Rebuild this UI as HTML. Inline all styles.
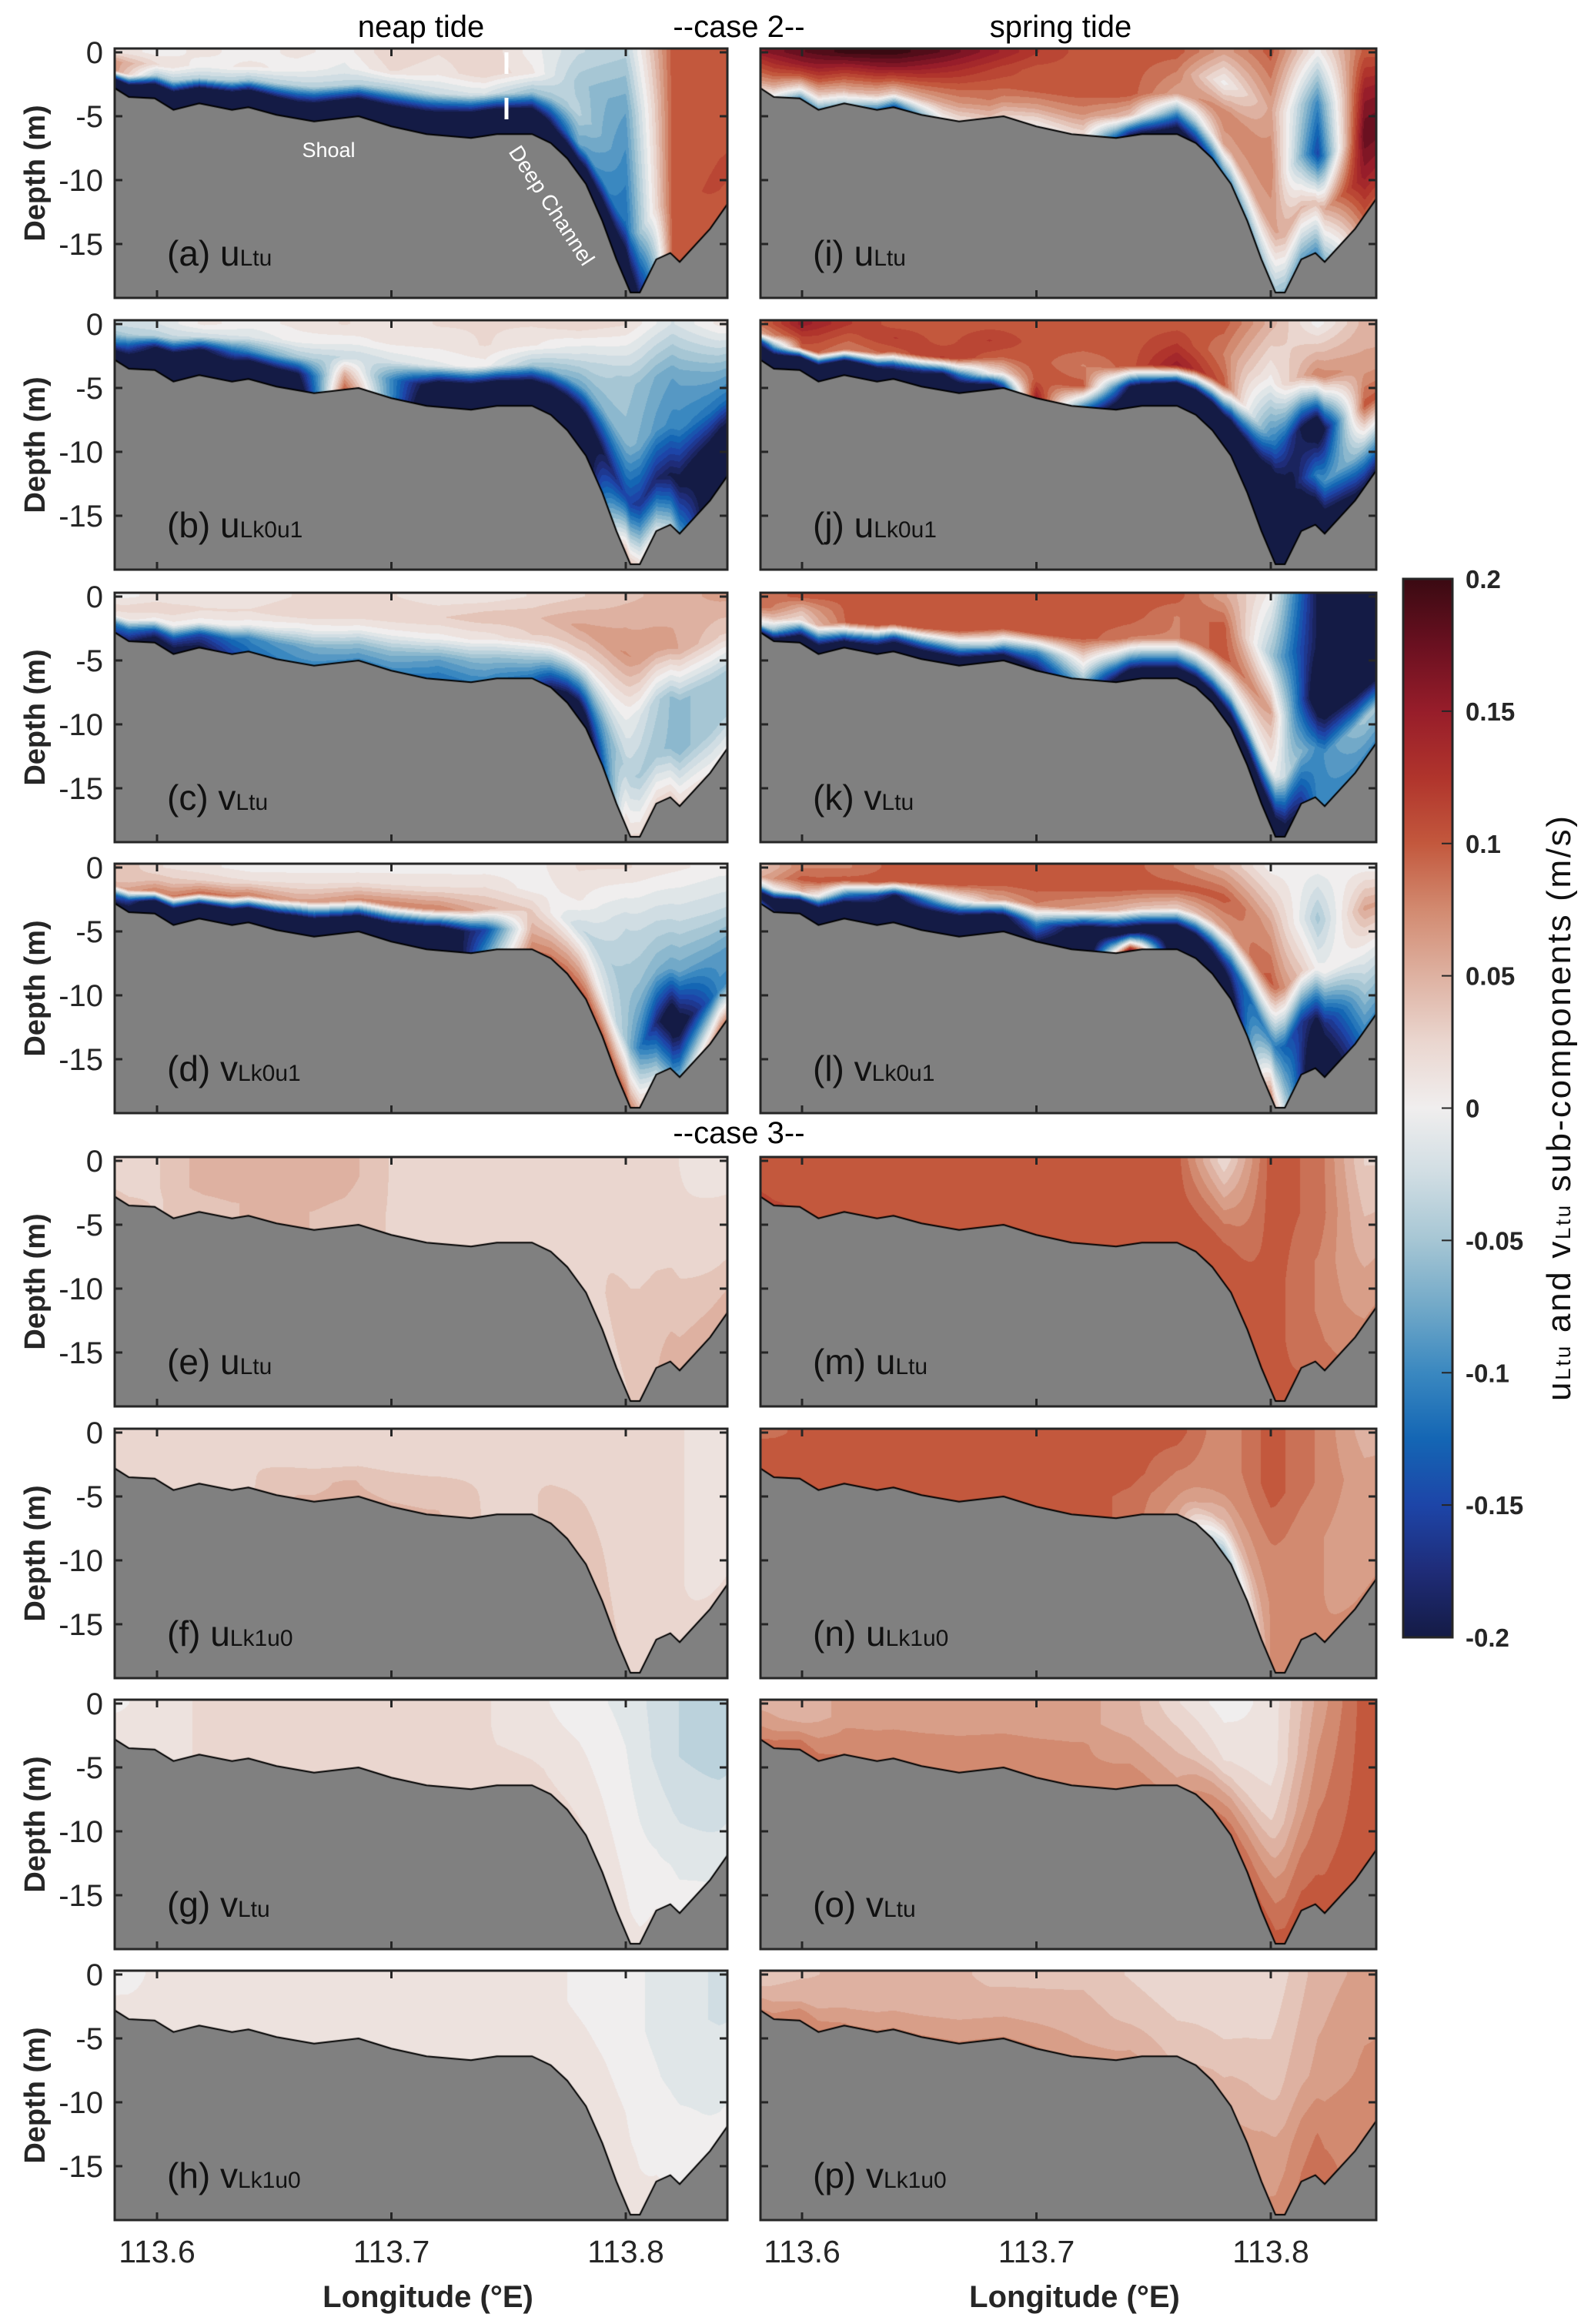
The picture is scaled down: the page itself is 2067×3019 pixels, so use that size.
<!DOCTYPE html>
<html><head><meta charset="utf-8">
<style>
html,body{margin:0;padding:0;background:#fff;}
#wrap{position:relative;width:2067px;height:3019px;overflow:hidden;background:#fff;}
canvas{position:absolute;}
svg{position:absolute;left:0;top:0;}
text{font-family:"Liberation Sans",Arial,sans-serif;}
</style></head>
<body>
<div id="wrap">
<svg id="ov" width="2067" height="3019"></svg>
</div>
<script>
// ---------- data ----------
const lonCols = [113.58,113.60,113.62,113.64,113.66,113.68,113.70,113.72,113.74,113.76,113.78,113.80,113.82,113.84];
const bathyLon = [113.582,113.588,113.599,113.607,113.618,113.632,113.639,113.651,113.667,113.686,113.700,113.715,113.734,113.745,113.760,113.768,113.775,113.783,113.790,113.796,113.802,113.806,113.813,113.819,113.823,113.836,113.846];
const bathyDepth = [2.8,3.5,3.6,4.5,4.0,4.5,4.3,4.9,5.4,5.0,5.8,6.4,6.7,6.4,6.4,7.1,8.3,10.3,13.2,16.2,18.8,18.8,16.2,15.7,16.4,13.8,11.2];
const xTickValues = [113.6,113.7,113.8];
const xTickLabels = ["113.6","113.7","113.8"];
const yTickValues = [0,-5,-10,-15];
const yTickLabels = ["0","-5","-10","-15"];
const cbarValues = [-0.2,-0.175,-0.15,-0.125,-0.1,-0.075,-0.05,-0.025,0,0.025,0.05,0.075,0.1,0.125,0.15,0.175,0.2];
const cbarColors = ["#141b45","#1f2c78","#1d45a8","#1466b4","#3a88c0","#72a9c8","#a6c6d4","#d0dde3","#f0eeee","#ead6cf","#deb1a1","#d28a70","#c3583d","#b0342c","#971d2a","#6a1020","#3a0a12"];
const cbarTickValues = [0.2,0.15,0.1,0.05,0,-0.05,-0.1,-0.15,-0.2];
const cbarTickLabels = ["0.2","0.15","0.1","0.05","0","-0.05","-0.1","-0.15","-0.2"];

// grids: rows = sigma levels 0,0.25,0.5,0.75,1 (surface->bottom); cols = lonCols
const gridA = [
[0.02,0,0.01,0,0.01,0,0.03,0.02,0.03,0,-0.03,-0.04,0.1,0.1],
[0.07,0.02,0,0.01,0,-0.01,0.02,0.01,0.03,0.01,-0.05,-0.08,0.1,0.1],
[0.08,-0.05,-0.04,-0.05,-0.04,-0.04,-0.05,-0.03,-0.02,-0.06,-0.04,-0.1,0.1,0.1],
[-0.2,-0.25,-0.25,-0.25,-0.2,-0.22,-0.22,-0.22,-0.25,-0.25,-0.08,-0.12,0.1,0.11],
[-0.3,-0.3,-0.3,-0.3,-0.3,-0.3,-0.3,-0.3,-0.3,-0.3,-0.3,-0.3,0.1,0.1]];
const gridB = [
[-0.03,-0.02,0.01,0,0.01,0.02,0.01,0.02,0.02,0.02,0.03,0.02,-0.02,0.01],
[-0.05,-0.04,-0.03,-0.02,0,0,0.01,0.01,0.02,0.01,-0.02,-0.05,-0.08,-0.06],
[-0.1,-0.2,-0.2,-0.1,-0.05,-0.03,-0.02,-0.01,0,-0.05,-0.08,-0.06,-0.1,-0.12],
[-0.2,-0.25,-0.25,-0.25,-0.2,0.05,-0.1,-0.25,-0.25,-0.25,-0.25,-0.15,-0.2,-0.25],
[-0.3,-0.3,-0.3,-0.3,-0.25,0.1,-0.1,-0.3,-0.3,-0.3,-0.3,0.05,-0.05,-0.3]];
const gridC = [
[0,0.01,0.01,0.01,0.02,0.02,0.02,0.01,0.01,0.02,0.03,0.04,0.05,0.06],
[0.02,0.03,0.02,0.02,0.03,0.03,0.03,0.03,0.04,0.04,0.06,0.07,0.06,0.03],
[0.02,0,0,0,-0.01,0,0,0,0.01,0.03,0.02,0,-0.06,-0.05],
[-0.1,-0.15,-0.15,-0.1,-0.08,-0.06,-0.06,-0.08,-0.06,-0.05,-0.12,-0.04,-0.06,-0.05],
[-0.15,-0.25,-0.2,-0.12,-0.1,-0.1,-0.1,-0.12,-0.1,-0.12,-0.3,0.02,0.03,0]];
const gridD = [
[0.05,0.02,0.01,0,0,0,0,0,0,0,0.02,0.02,0.01,0],
[0.03,0.04,0.03,0.02,0.02,0.02,0.02,0.02,0.02,0,0.01,-0.03,-0.03,-0.03],
[0.05,0.08,0.09,0.08,0.06,0.07,0.08,0.08,0.05,0.03,-0.03,-0.05,-0.08,-0.08],
[-0.1,-0.25,-0.25,-0.22,-0.22,-0.2,-0.2,-0.25,-0.15,0.05,0.04,-0.05,-0.25,-0.1],
[-0.2,-0.3,-0.3,-0.3,-0.3,-0.3,-0.3,-0.3,-0.1,0.08,0.1,0.1,-0.1,0.08]];
const gridE = [
[0.03,0.03,0.05,0.05,0.05,0.05,0.03,0.03,0.03,0.03,0.03,0.02,0.02,0.01],
[0.03,0.03,0.05,0.05,0.05,0.05,0.03,0.03,0.03,0.03,0.03,0.03,0.02,0.02],
[0.03,0.03,0.05,0.05,0.05,0.045,0.03,0.03,0.03,0.03,0.03,0.03,0.03,0.02],
[0.03,0.03,0.04,0.045,0.045,0.04,0.03,0.03,0.03,0.03,0.02,0.04,0.04,0.04],
[0.04,0.03,0.04,0.045,0.045,0.04,0.03,0.03,0.03,0.03,0.02,0.03,0.05,0.05]];
const gridF = [
[0.02,0.03,0.03,0.03,0.03,0.03,0.03,0.03,0.03,0.03,0.03,0.03,0.02,0.015],
[0.03,0.03,0.03,0.03,0.03,0.03,0.03,0.03,0.03,0.03,0.03,0.03,0.02,0.015],
[0.03,0.03,0.03,0.03,0.03,0.03,0.03,0.03,0.03,0.03,0.03,0.025,0.02,0.015],
[0.03,0.03,0.03,0.03,0.04,0.045,0.04,0.04,0.03,0.03,0.04,0.025,0.02,0.015],
[0.03,0.03,0.03,0.03,0.045,0.045,0.045,0.045,0.03,0.03,0.04,0.03,0.02,0.02]];
const gridG = [
[0,0.015,0.02,0.02,0.02,0.025,0.025,0.03,0.02,0.01,0,-0.01,-0.03,-0.04],
[0.005,0.015,0.02,0.02,0.02,0.025,0.025,0.03,0.02,0.01,0.005,-0.005,-0.03,-0.04],
[0.01,0.015,0.02,0.02,0.025,0.03,0.03,0.03,0.02,0.015,0.01,0,-0.02,-0.03],
[0.01,0.015,0.02,0.02,0.025,0.03,0.03,0.03,0.025,0.02,0.015,0.005,-0.01,-0.02],
[0.015,0.015,0.02,0.02,0.025,0.03,0.03,0.03,0.025,0.02,0.02,0.01,0.005,-0.01]];
const gridH = [
[-0.005,0.01,0.01,0.01,0.015,0.015,0.015,0.015,0.01,0.01,0.005,0,-0.015,-0.02],
[0,0.01,0.01,0.01,0.015,0.015,0.015,0.015,0.01,0.01,0.005,0,-0.015,-0.02],
[0.005,0.01,0.012,0.012,0.015,0.015,0.015,0.015,0.012,0.01,0.008,0.005,-0.01,-0.015],
[0.008,0.01,0.012,0.012,0.015,0.015,0.015,0.015,0.012,0.01,0.01,0.008,0,-0.01],
[0.01,0.01,0.012,0.012,0.015,0.015,0.015,0.015,0.012,0.01,0.01,0.01,0.005,0]];
const gridI = [
[0.15,0.18,0.2,0.2,0.18,0.15,0.12,0.1,0.1,0.1,0.06,0.1,0,0.1],
[0.12,0.15,0.15,0.16,0.14,0.12,0.1,0.1,0.1,0.08,0,0.06,-0.1,0.15],
[0.1,0.1,0.1,0.1,0.1,0.1,0.1,0.1,0.1,0.06,0.08,0.08,-0.15,0.18],
[0.08,0.02,0.05,0.03,0.06,0.08,0.06,0.07,0.04,-0.1,0.06,0.06,0.04,0.15],
[0.05,-0.1,-0.05,-0.15,0,0.04,0,0.02,-0.2,-0.25,-0.1,-0.05,-0.1,0.1]];
const gridJ = [
[0.08,0.15,0.12,0.1,0.1,0.1,0.1,0.1,0.1,0.1,0.1,0.05,0,0.05],
[0.05,0.12,0.1,0.12,0.1,0.12,0.1,0.1,0.1,0.12,0.08,0,0.08,0.06],
[-0.2,0.1,0.08,0.1,0.12,0.1,0.1,0.08,0.1,0.15,0.1,-0.1,-0.25,0.1],
[-0.25,-0.25,-0.25,-0.15,-0.2,0,0.1,0.1,-0.2,-0.25,-0.2,-0.3,-0.1,-0.05],
[-0.3,-0.3,-0.3,-0.3,-0.3,-0.3,0.15,-0.1,-0.3,-0.3,-0.3,-0.3,-0.3,-0.2]];
const gridK = [
[0.08,0.1,0.1,0.1,0.1,0.1,0.1,0.1,0.1,0.1,0.06,0,-0.2,-0.3],
[0.1,0.05,0.1,0.1,0.1,0.1,0.1,0.1,0.1,0.08,0.1,-0.05,-0.2,-0.3],
[0.05,0.02,0.1,0.1,0.1,0.1,0.1,0.1,0.08,0.08,0.1,0.06,-0.25,-0.25],
[0,-0.15,-0.1,-0.15,-0.1,-0.05,-0.1,0.02,-0.1,-0.1,-0.05,0,-0.1,-0.05],
[-0.2,-0.3,-0.3,-0.3,-0.3,-0.3,-0.2,-0.05,-0.3,-0.3,-0.3,-0.3,-0.1,-0.1]];
const gridL = [
[0.03,0.08,0.08,0.1,0.1,0.1,0.1,0.1,0.1,0.08,0.05,0,0,0],
[0.05,0.1,0.1,0.1,0.1,0.1,0.1,0.1,0.1,0.1,0.1,0.06,-0.05,0.06],
[-0.05,0.05,-0.1,-0.2,-0.05,0.05,0.08,0.06,0.04,0.03,0.06,0.1,0,0],
[-0.25,-0.25,-0.25,-0.25,-0.25,-0.25,-0.1,-0.25,-0.25,-0.25,-0.15,-0.1,-0.2,-0.05],
[-0.1,-0.3,-0.3,-0.3,-0.3,-0.3,-0.2,-0.3,0.18,-0.3,-0.3,0.08,-0.3,-0.1]];
const gridM = [
[0.1,0.1,0.1,0.1,0.1,0.1,0.1,0.1,0.1,0.1,0.02,0.1,0.09,0.03],
[0.1,0.1,0.1,0.1,0.1,0.1,0.1,0.1,0.1,0.1,0.05,0.1,0.09,0.04],
[0.1,0.1,0.1,0.1,0.1,0.1,0.1,0.1,0.1,0.1,0.08,0.1,0.08,0.05],
[0.1,0.1,0.1,0.1,0.1,0.1,0.1,0.1,0.1,0.1,0.1,0.1,0.08,0.06],
[0.12,0.1,0.1,0.1,0.1,0.1,0.1,0.1,0.1,0.1,0.1,0.1,0.09,0.07]];
const gridN = [
[0.08,0.1,0.1,0.1,0.1,0.1,0.1,0.1,0.1,0.1,0.07,0.1,0.08,0.05],
[0.1,0.1,0.1,0.1,0.1,0.1,0.1,0.1,0.1,0.09,0.07,0.1,0.08,0.06],
[0.1,0.1,0.1,0.1,0.1,0.1,0.1,0.1,0.1,0.08,0.07,0.08,0.07,0.06],
[0.1,0.1,0.1,0.1,0.1,0.1,0.1,0.1,0.09,0.07,0.04,0.07,0.07,0.06],
[0.1,0.1,0.1,0.1,0.1,0.1,0.1,0.1,0.09,0.06,-0.06,0.07,0.07,0.07]];
const gridO = [
[0.05,0.05,0.06,0.06,0.06,0.06,0.06,0.06,0.05,0.02,0,0.01,0.06,0.1],
[0.06,0.05,0.06,0.06,0.06,0.06,0.06,0.06,0.05,0.03,0.01,0.01,0.07,0.1],
[0.06,0.06,0.07,0.07,0.07,0.07,0.07,0.07,0.06,0.04,0.02,0.03,0.08,0.1],
[0.08,0.08,0.07,0.07,0.08,0.08,0.08,0.07,0.07,0.05,0.06,0.07,0.09,0.1],
[0.08,0.09,0.08,0.07,0.08,0.08,0.08,0.08,0.08,0.06,0.09,0.1,0.1,0.1]];
const gridP = [
[0.03,0.04,0.05,0.05,0.05,0.04,0.04,0.04,0.03,0.02,0.02,0.02,0.05,0.06],
[0.04,0.05,0.05,0.05,0.05,0.045,0.045,0.045,0.035,0.025,0.025,0.03,0.055,0.065],
[0.05,0.05,0.05,0.05,0.05,0.05,0.05,0.05,0.04,0.03,0.03,0.04,0.06,0.07],
[0.06,0.07,0.06,0.06,0.06,0.06,0.06,0.055,0.05,0.035,0.04,0.06,0.08,0.07],
[0.07,0.08,0.07,0.07,0.07,0.07,0.07,0.06,0.06,0.04,0.05,0.07,0.09,0.07]];

// ---------- layout ----------
const rowTops = [63,416,770,1122,1503,1856,2208,2560];
const PH = 324;
const colX = [149,988], colW = [796,800], lonRef = [204,1042];
const PXDEG = 3045, PXM = 16.6;
const panels = [
 {id:'a',comp:'u',sub:'Ltu',col:0,row:0,g:gridA},{id:'b',comp:'u',sub:'Lk0u1',col:0,row:1,g:gridB},
 {id:'c',comp:'v',sub:'Ltu',col:0,row:2,g:gridC},{id:'d',comp:'v',sub:'Lk0u1',col:0,row:3,g:gridD},
 {id:'e',comp:'u',sub:'Ltu',col:0,row:4,g:gridE},{id:'f',comp:'u',sub:'Lk1u0',col:0,row:5,g:gridF},
 {id:'g',comp:'v',sub:'Ltu',col:0,row:6,g:gridG},{id:'h',comp:'v',sub:'Lk1u0',col:0,row:7,g:gridH},
 {id:'i',comp:'u',sub:'Ltu',col:1,row:0,g:gridI},{id:'j',comp:'u',sub:'Lk0u1',col:1,row:1,g:gridJ},
 {id:'k',comp:'v',sub:'Ltu',col:1,row:2,g:gridK},{id:'l',comp:'v',sub:'Lk0u1',col:1,row:3,g:gridL},
 {id:'m',comp:'u',sub:'Ltu',col:1,row:4,g:gridM},{id:'n',comp:'u',sub:'Lk1u0',col:1,row:5,g:gridN},
 {id:'o',comp:'v',sub:'Ltu',col:1,row:6,g:gridO},{id:'p',comp:'v',sub:'Lk1u0',col:1,row:7,g:gridP}];

function hex(c){return [parseInt(c.substr(1,2),16),parseInt(c.substr(3,2),16),parseInt(c.substr(5,2),16)];}
const cbRGB = cbarColors.map(hex);
function cmap(v){
  v = Math.max(-0.2, Math.min(0.2, v));
  v = Math.round(v/0.0125)*0.0125;
  v = Math.max(-0.2, Math.min(0.2, v));
  let k = 0;
  while (k < cbarValues.length-2 && v > cbarValues[k+1]) k++;
  const t = (v - cbarValues[k])/(cbarValues[k+1]-cbarValues[k]);
  const a = cbRGB[k], b = cbRGB[k+1];
  return [a[0]+(b[0]-a[0])*t, a[1]+(b[1]-a[1])*t, a[2]+(b[2]-a[2])*t];
}
function bathy(lon){
  if (lon <= bathyLon[0]) return bathyDepth[0];
  for (let i=0;i<bathyLon.length-1;i++){
    if (lon <= bathyLon[i+1]){const t=(lon-bathyLon[i])/(bathyLon[i+1]-bathyLon[i]);return bathyDepth[i]+(bathyDepth[i+1]-bathyDepth[i])*t;}
  }
  return bathyDepth[bathyDepth.length-1];
}
function xOf(col, lon){ return lonRef[col] + (lon-113.6)*PXDEG; }
function yOf(row, d){ return rowTops[row] + (d+0.3)*PXM; }

const wrap = document.getElementById('wrap');
const svg = document.getElementById('ov');
const NS = 'http://www.w3.org/2000/svg';
function mk(tag, attrs, parent){ const e=document.createElementNS(NS,tag); for (const k in attrs) e.setAttribute(k, attrs[k]); (parent||svg).appendChild(e); return e; }

panels.forEach(p => {
  const X = colX[p.col], T = rowTops[p.row], w = colW[p.col];
  const cv = document.createElement('canvas');
  
  
  cv.width = w; cv.height = PH;
  cv.style.left = X + 'px'; cv.style.top = T + 'px';
  wrap.insertBefore(cv, svg);
  const ctx = cv.getContext('2d');
  const img = ctx.createImageData(w, PH);
  const nc = lonCols.length;
  for (let i=0;i<w;i++){
    const lon = 113.6 + (X + i + 0.5 - lonRef[p.col])/PXDEG;
    const B = bathy(lon);
    let ci = (lon - lonCols[0])/(lonCols[1]-lonCols[0]);
    ci = Math.max(0, Math.min(nc-1.0001, ci));
    const c0 = Math.floor(ci), ct = ci - c0;
    for (let j=0;j<PH;j++){
      const d = (j+0.5)/PXM - 0.3;
      const idx = (j*w + i)*4;
      let rgb;
      if (d > B) rgb = [128,128,128];
      else {
        let ri = Math.max(0, d)/B*4; ri = Math.min(3.9999, ri);
        const r0 = Math.floor(ri), rt = ri - r0;
        const g = p.g;
        const v = (g[r0][c0]*(1-ct)+g[r0][c0+1]*ct)*(1-rt) + (g[r0+1][c0]*(1-ct)+g[r0+1][c0+1]*ct)*rt;
        rgb = cmap(v);
      }
      img.data[idx]=rgb[0]; img.data[idx+1]=rgb[1]; img.data[idx+2]=rgb[2]; img.data[idx+3]=255;
    }
  }
  ctx.putImageData(img, 0, 0);
  ctx.strokeStyle = '#000'; ctx.lineWidth = 2; ctx.beginPath();
  bathyLon.forEach((lon,k) => {
    const x = xOf(p.col, lon) - X, y = yOf(p.row, bathyDepth[k]) - T;
    if (k===0) ctx.moveTo(0, y); else ctx.lineTo(x, y);
  });
  ctx.stroke();

  const grp = mk('g', {});
  
  
  xTickValues.forEach(v => {
    const x = xOf(p.col, v);
    mk('line',{x1:x,y1:T,x2:x,y2:T+10,stroke:'#262626','stroke-width':3},grp);
    mk('line',{x1:x,y1:T+PH,x2:x,y2:T+PH-10,stroke:'#262626','stroke-width':3},grp);
  });
  yTickValues.forEach((v,k) => {
    const y = yOf(p.row, -v);
    mk('line',{x1:X,y1:y,x2:X+10,y2:y,stroke:'#262626','stroke-width':3},grp);
    mk('line',{x1:X+w,y1:y,x2:X+w-10,y2:y,stroke:'#262626','stroke-width':3},grp);
    if (p.col===0){
      const t = mk('text',{x:134,y:y+14,'text-anchor':'end','font-size':40,fill:'#262626'},grp);
      t.textContent = yTickLabels[k];
      
      
    }
  });
  mk('rect',{x:X,y:T,width:w,height:PH,fill:'none',stroke:'#262626','stroke-width':3},grp);
  const lab = mk('text',{x:X+68,y:T+282,'font-size':46,fill:'#111'},grp);
  
  
  lab.appendChild(document.createTextNode('(' + p.id + ') ' + p.comp));
  const ts = mk('tspan',{'font-size':30},lab); ts.textContent = p.sub;
  if (p.col===0){
    const dl = mk('text',{x:0,y:0,'font-size':38,'font-weight':'bold','text-anchor':'middle',fill:'#262626',transform:'translate(58,'+(T+162)+') rotate(-90)'});
    dl.textContent = 'Depth (m)';
    
    
  }
  if (p.row===7){
    xTickValues.forEach((v,k) => {
      const t = mk('text',{x:xOf(p.col,v),y:2939,'text-anchor':'middle','font-size':41,fill:'#262626'});
      t.textContent = xTickLabels[k];
      
      
    });
    const xl = mk('text',{x:p.col===0?556:1396,y:2997,'text-anchor':'middle','font-size':40,'font-weight':'bold',fill:'#262626'});
    xl.textContent = 'Longitude (°E)';
    
    
  }
});

function txt(x,y,s,attrs,name){ const t=mk('text',Object.assign({x:x,y:y},attrs)); t.textContent=s;   return t; }
txt(547,48,'neap tide',{'font-size':40,'text-anchor':'middle',fill:'#000'},'neap-tide-title');
txt(960,48,'--case 2--',{'font-size':40,'text-anchor':'middle',fill:'#000'},'case2-title');
txt(1378,48,'spring tide',{'font-size':40,'text-anchor':'middle',fill:'#000'},'spring-tide-title');
txt(960,1485,'--case 3--',{'font-size':40,'text-anchor':'middle',fill:'#000'},'case3-title');
txt(427,204,'Shoal',{'font-size':27,'text-anchor':'middle',fill:'#fff'},'shoal-annotation');
txt(0,0,'Deep Channel',{'font-size':28,fill:'#fff',transform:'translate(660,197) rotate(57)'},'deep-channel-annotation');
const dsh = mk('line',{x1:658,y1:68,x2:658,y2:158,stroke:'#fff','stroke-width':5,'stroke-dasharray':'28 31'});



// colorbar
const CBX = 1823, CBW = 64, CBT = 752, CBB = 2127;
const defs = mk('defs',{});
const lg = mk('linearGradient',{id:'cbg',x1:0,y1:1,x2:0,y2:0},defs);
cbarValues.forEach((v,k) => { mk('stop',{offset:((v+0.2)/0.4*100)+'%','stop-color':cbarColors[k]},lg); });
const cb = mk('rect',{x:CBX,y:CBT,width:CBW,height:CBB-CBT,fill:'url(#cbg)',stroke:'#262626','stroke-width':3});


function cbY(v){ return CBB - (v+0.2)/0.4*(CBB-CBT); }
cbarTickValues.forEach((v,k) => {
  const y = cbY(v);
  mk('line',{x1:CBX+CBW-14,y1:y,x2:CBX+CBW,y2:y,stroke:'#262626','stroke-width':2});
  const t = mk('text',{x:1904,y:y+12,'font-size':33,'font-weight':'bold',fill:'#262626'});
  t.textContent = cbarTickLabels[k];
  
  
});
const ct = mk('text',{x:0,y:0,'font-size':44,'text-anchor':'middle',fill:'#111',transform:'translate(2040,1440) rotate(-90)',textLength:760,lengthAdjust:'spacing'});


ct.appendChild(document.createTextNode('u'));
let s1 = mk('tspan',{'font-size':28},ct); s1.textContent='Ltu';
ct.appendChild(document.createTextNode('  and v'));
let s2 = mk('tspan',{'font-size':28},ct); s2.textContent='Ltu';
ct.appendChild(document.createTextNode('  sub-components (m/s)'));
</script>
</body></html>
